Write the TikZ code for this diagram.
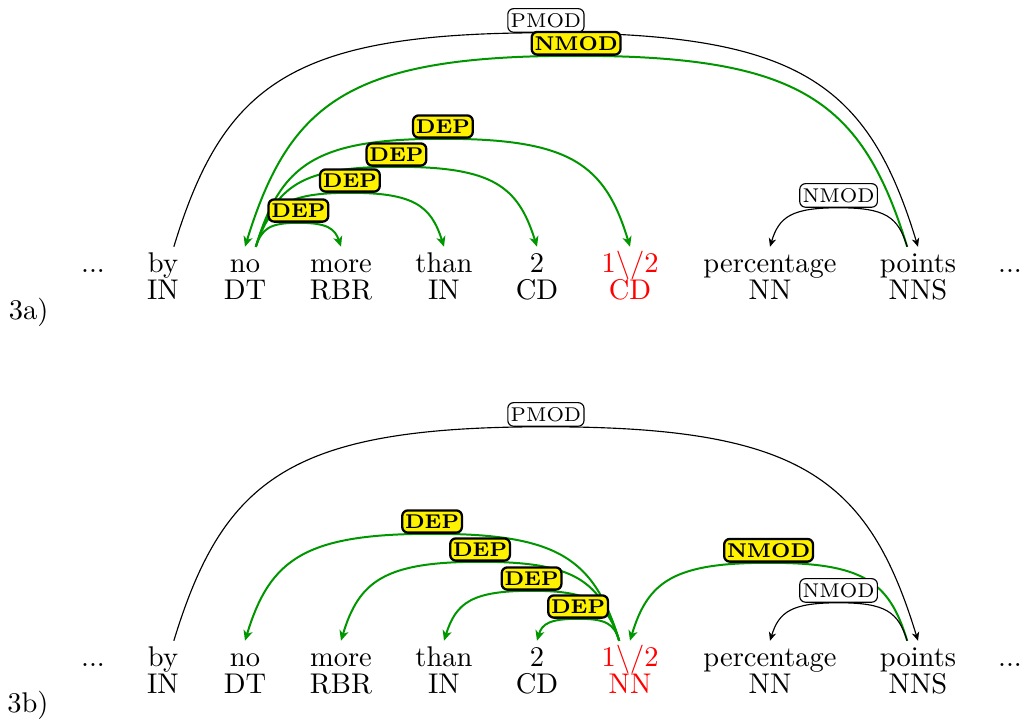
\documentclass[tikz,border=0pt]{standalone}
\usepackage{xcolor}
\usetikzlibrary{arrows.meta,positioning,calc}

\definecolor{depgreen}{RGB}{0,150,0}

\tikzset{
  word/.style={anchor=base, text height=7pt, text depth=2pt, inner sep=2pt},
  tag/.style={inner sep=0pt},
  dep/.style={depgreen, line width=0.7pt, -{Stealth[length=3.6pt,width=3.2pt,inset=1pt]}},
  rel/.style={black, line width=0.4pt, -{Stealth[length=3pt,width=2.6pt,inset=0.9pt]}},
  deplab/.style={draw=black, text=black, line width=0.8pt, fill=yellow, rounded corners=2pt,
    inner xsep=1pt, inner ysep=1.5pt, font=\scriptsize\bfseries, anchor=south},
  rellab/.style={draw=black, text=black, line width=0.4pt, fill=white, rounded corners=2pt,
    inner xsep=1pt, inner ysep=1.6pt, font=\scriptsize, anchor=south},
}

\begin{document}
\begin{tikzpicture}[x=0.351pt,y=0.351pt]
\useasboundingbox (0,0) rectangle (1027,724);

% sentence 3a
\foreach \n/\x/\w in {by/163/by, no/245/no, more/341/more, than/444/than,
    two/537/2, pct/770/percentage, pts/918/points}
  \node[word] (a-\n) at (\x,451) {\w};
\node[word] (a-dl) at (93,451) {...};
\node[word] (a-dr) at (1010,451) {...};
\node[word, red] (a-half) at (630,451) {1\textbackslash/2};
\foreach \n/\t in {by/IN, no/DT, more/RBR, than/IN, two/CD, pct/NN, pts/NNS}
  \node[tag, below=9.3pt of a-\n.base, anchor=base] (a-\n-t) {\t};
\node[tag, red, below=9.3pt of a-half.base, anchor=base] (a-half-t) {CD};
\node[anchor=base east, inner sep=0pt] (lab-a) at (49,404) {3a)};

% arcs: start -> top -> end, the top carries the label
\draw[rel] ([xshift=3.8pt]a-by.north) coordinate (s)
  .. controls +(50,164) and +(-253,0) .. ($(s)!.5!(a-pts.north)+(0,214)$) node[rellab] {PMOD}
  .. controls +(253,0) and +(-50,164) .. (a-pts.north);
\draw[dep] ([xshift=-3.8pt]a-pts.north) coordinate (s)
  .. controls +(-45,146) and +(225,0) .. ($(s)!.5!(a-no.north)+(0,191)$) node[deplab] {NMOD}
  .. controls +(-225,0) and +(45,146) .. (a-no.north);
\draw[dep] ([xshift=3.8pt]a-no.north) coordinate (s)
  .. controls +(25,83) and +(-127,0) .. ($(s)!.5!(a-half.north)+(0,108)$) node[deplab] {DEP}
  .. controls +(127,0) and +(-25,83) .. (a-half.north);
\draw[dep] ([xshift=3.8pt]a-no.north) coordinate (s)
  .. controls +(19,61) and +(-96,0) .. ($(s)!.5!(a-two.north)+(0,80)$) node[deplab] {DEP}
  .. controls +(96,0) and +(-19,61) .. (a-two.north);
\draw[dep] ([xshift=3.8pt]a-no.north) coordinate (s)
  .. controls +(13,41) and +(-64,0) .. ($(s)!.5!(a-than.north)+(0,54)$) node[deplab] {DEP}
  .. controls +(64,0) and +(-13,41) .. (a-than.north);
\draw[rel] ([xshift=-3.8pt]a-pts.north) coordinate (s)
  .. controls +(-9,30) and +(47,0) .. ($(s)!.5!(a-pct.north)+(0,39)$) node[rellab] {NMOD}
  .. controls +(-47,0) and +(9,30) .. (a-pct.north);
\draw[dep] ([xshift=3.8pt]a-no.north) coordinate (s)
  .. controls +(6,18) and +(-29,0) .. ($(s)!.5!(a-more.north)+(0,24)$) node[deplab] {DEP}
  .. controls +(29,0) and +(-6,18) .. (a-more.north);

% sentence 3b
\foreach \n/\x/\w in {by/163/by, no/245/no, more/341/more, than/444/than,
    two/537/2, pct/770/percentage, pts/918/points}
  \node[word] (b-\n) at (\x,57) {\w};
\node[word] (b-dl) at (93,57) {...};
\node[word] (b-dr) at (1010,57) {...};
\node[word, red] (b-half) at (630,57) {1\textbackslash/2};
\foreach \n/\t in {by/IN, no/DT, more/RBR, than/IN, two/CD, pct/NN, pts/NNS}
  \node[tag, below=9.3pt of b-\n.base, anchor=base] (b-\n-t) {\t};
\node[tag, red, below=9.3pt of b-half.base, anchor=base] (b-half-t) {NN};
\node[anchor=base east, inner sep=0pt] (lab-b) at (49,11) {3b)};

\draw[rel] ([xshift=3.8pt]b-by.north) coordinate (s)
  .. controls +(50,164) and +(-253,0) .. ($(s)!.5!(b-pts.north)+(0,214)$) node[rellab] {PMOD}
  .. controls +(253,0) and +(-50,164) .. (b-pts.north);
\draw[dep] ([xshift=-3.8pt]b-half.north) coordinate (s)
  .. controls +(-25,82) and +(127,0) .. ($(s)!.5!(b-no.north)+(0,107)$) node[deplab] {DEP}
  .. controls +(-127,0) and +(25,82) .. (b-no.north);
\draw[dep] ([xshift=-3.8pt]b-half.north) coordinate (s)
  .. controls +(-18,60) and +(95,0) .. ($(s)!.5!(b-more.north)+(0,79)$) node[deplab] {DEP}
  .. controls +(-95,0) and +(18,60) .. (b-more.north);
\draw[dep] ([xshift=-3.8pt]b-pts.north) coordinate (s)
  .. controls +(-18,60) and +(94,0) .. ($(s)!.5!(b-half.north)+(0,78)$) node[deplab] {NMOD}
  .. controls +(-94,0) and +(18,60) .. (b-half.north);
\draw[dep] ([xshift=-3.8pt]b-half.north) coordinate (s)
  .. controls +(-12,38) and +(60,0) .. ($(s)!.5!(b-than.north)+(0,50)$) node[deplab] {DEP}
  .. controls +(-60,0) and +(12,38) .. (b-than.north);
\draw[rel] ([xshift=-3.8pt]b-pts.north) coordinate (s)
  .. controls +(-9,29) and +(47,0) .. ($(s)!.5!(b-pct.north)+(0,38)$) node[rellab] {NMOD}
  .. controls +(-47,0) and +(9,29) .. (b-pct.north);
\draw[dep] ([xshift=-3.8pt]b-half.north) coordinate (s)
  .. controls +(-5,17) and +(28,0) .. ($(s)!.5!(b-two.north)+(0,22)$) node[deplab] {DEP}
  .. controls +(-28,0) and +(5,17) .. (b-two.north);
\end{tikzpicture}
\end{document}
